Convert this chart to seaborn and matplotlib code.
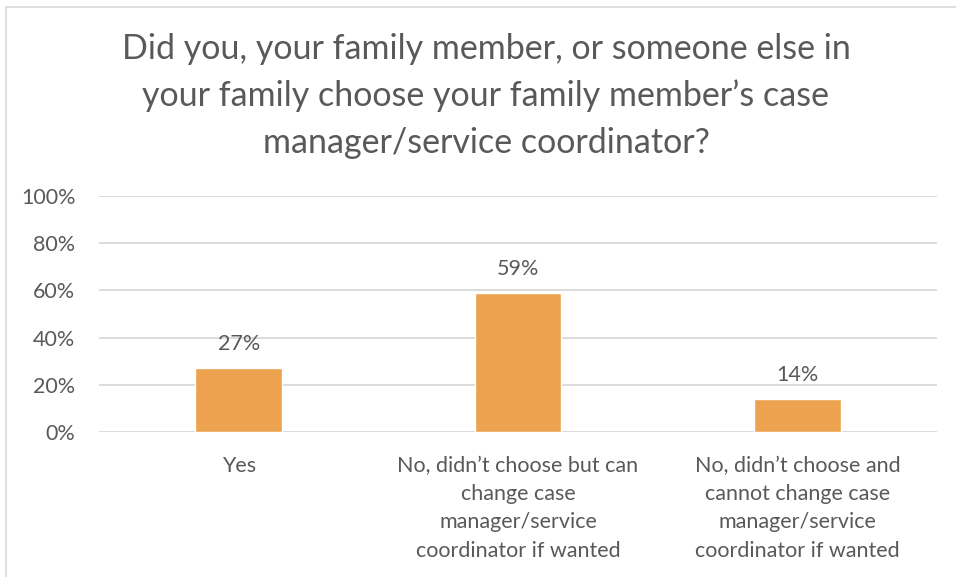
import matplotlib
matplotlib.use("Agg")
import matplotlib.pyplot as plt
from matplotlib.lines import Line2D
import seaborn as sns
import pandas as pd

# Survey responses
categories = [
    "Yes",
    "No, didn\u2019t choose but can\nchange case\nmanager/service\ncoordinator if wanted",
    "No, didn\u2019t choose and\ncannot change case\nmanager/service\ncoordinator if wanted",
]
shares = [0.27, 0.59, 0.14]
yticks = [0.0, 0.2, 0.4, 0.6, 0.8, 1.0]
ytick_labels = ["0%", "20%", "40%", "60%", "80%", "100%"]
title = ("Did you, your family member, or someone else in\n"
         "your family choose your family member\u2019s case\n"
         "manager/service coordinator?")

sns.set_theme(style="white")
plt.rcParams["font.family"] = ["Lato", "DejaVu Sans"]

TEXT = "#595959"
GRID = "#d9d9d9"
BAR = "#EDA24F"

W, H = 956, 577
fig = plt.figure(figsize=(W / 100, H / 100), dpi=100)
fig.patch.set_facecolor("white")

ax = fig.add_axes([99 / W, 1 - 432 / H, (937 - 99) / W, (432 - 196) / H])

df = pd.DataFrame({"category": categories, "share": shares})
sns.barplot(data=df, x="category", y="share", color=BAR, width=0.31,
            saturation=1, ax=ax, zorder=3)

ax.set_ylim(0, 1)
ax.set_xlim(-0.5, 2.5)
ax.set_yticks(yticks)
ax.set_yticklabels(ytick_labels)
ax.yaxis.grid(True, color=GRID, linewidth=1.3, zorder=0)
ax.set_axisbelow(True)
for s in ax.spines.values():
    s.set_visible(False)
ax.set_xlabel("")
ax.set_ylabel("")
ax.tick_params(axis="y", colors=TEXT, labelsize=15.5, length=0, pad=17)
ax.tick_params(axis="x", colors=TEXT, labelsize=15.5, length=0, pad=17)
for lbl in ax.get_xticklabels():
    lbl.set_linespacing(1.52)
    lbl.set_verticalalignment("top")

for container in ax.containers:
    ax.bar_label(container, labels=[f"{v * 100:.0f}%" for v in container.datavalues],
                 padding=10, color=TEXT, fontsize=15.5)

fig.text(486 / W, 1 - 33 / H, title, ha="center", va="top", fontsize=24.5,
         color=TEXT, linespacing=1.55)

# Chart frame (top and left edges visible)
fig.add_artist(Line2D([5.5 / W, 1.0], [1 - 6.5 / H, 1 - 6.5 / H],
                      transform=fig.transFigure, color="#d9d9d9", linewidth=1.2))
fig.add_artist(Line2D([5.5 / W, 5.5 / W], [0.0, 1 - 6.5 / H],
                      transform=fig.transFigure, color="#d9d9d9", linewidth=1.2))

fig.savefig("out.png", dpi=100, facecolor="white")
